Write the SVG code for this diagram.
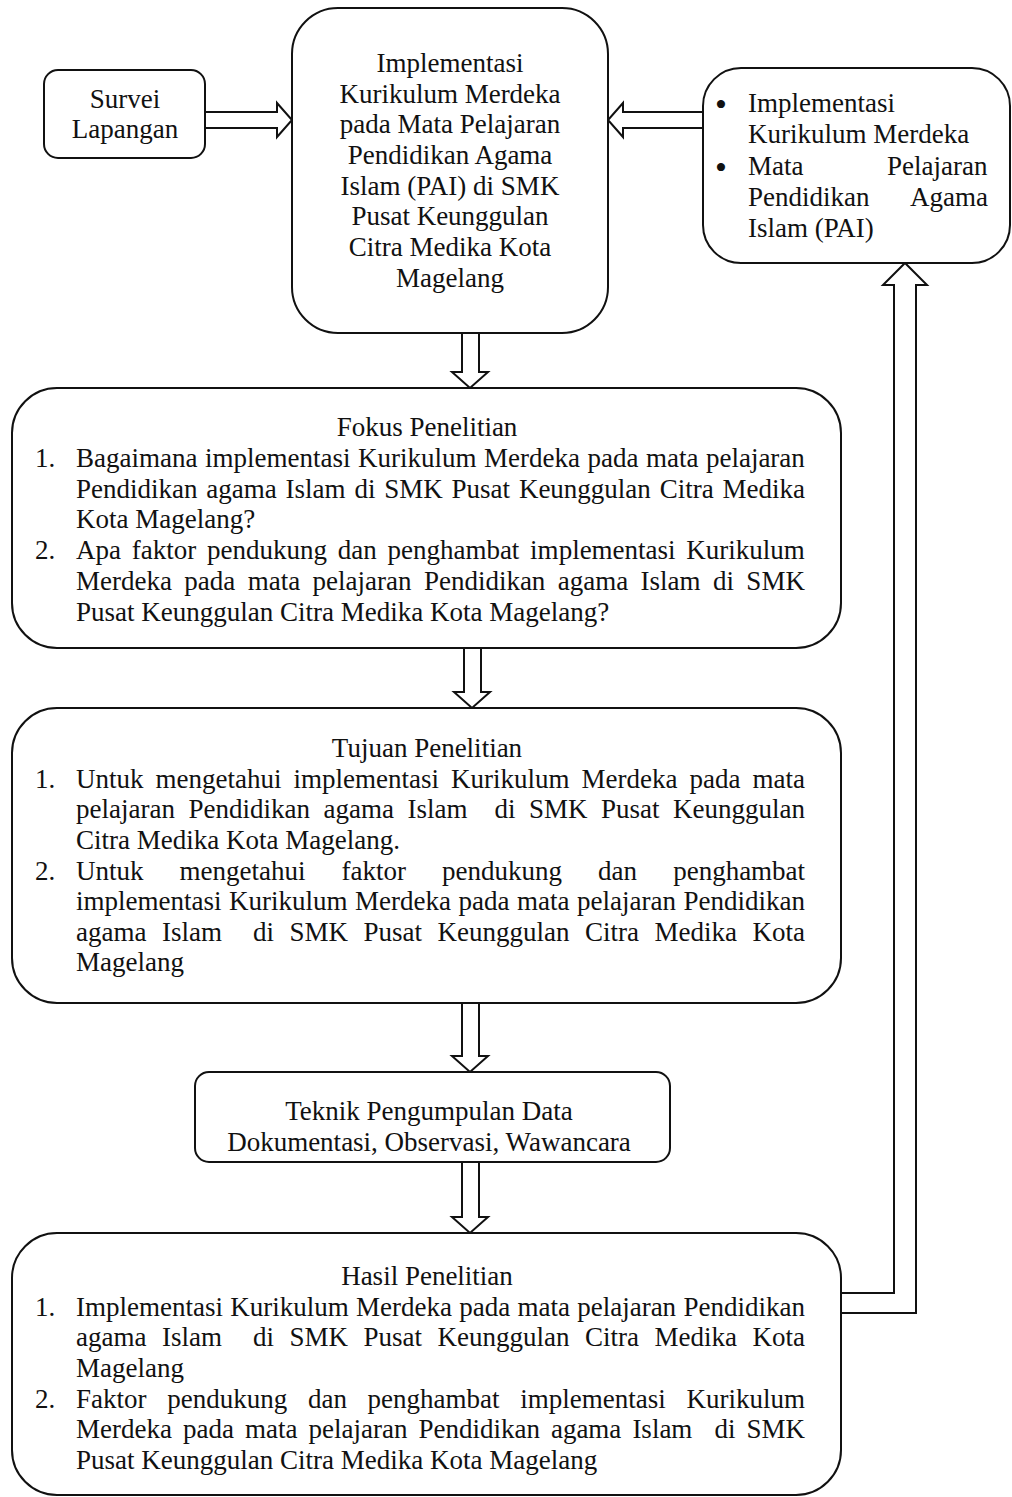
<svg xmlns="http://www.w3.org/2000/svg" width="1012" height="1497" viewBox="0 0 1012 1497">
<style>
.box{fill:#fff;stroke:#111;stroke-width:2}
.arr{fill:#fff;stroke:#111;stroke-width:2;stroke-linejoin:miter}
text{font-family:"Liberation Serif","Times New Roman",serif;font-size:27px;fill:#111}
.c{text-anchor:middle}
.b{font-size:34px;text-anchor:middle}
</style>
<rect width="1012" height="1497" fill="#fff"/>
<g id="connectors">
<path class="arr" d="M205,112 H277 V103 L292,120 L277,137 V128 H205"/>
<path class="arr" d="M703,112 H623 V103 L608,120 L623,137 V128 H703"/>
<path class="arr" d="M462,333 V372 H452 L470,388 L488,372 H479 V333"/>
<path class="arr" d="M464,648 V692 H454 L472,708 L490,692 H481 V648"/>
<path class="arr" d="M462,1003 V1056 H452 L470,1072 L488,1056 H479 V1003"/>
<path class="arr" d="M462,1162 V1217 H452 L470,1233 L488,1217 H479 V1162"/>
<path class="arr" d="M841,1313 H916 V285 H927 L905,263 L883,285 H894 V1293 H841"/>
</g>
<g id="survei">
<rect class="box" x="44" y="70" width="161" height="88" rx="14"/>
<text class="c" x="125" y="108">Survei</text>
<text class="c" x="125" y="138">Lapangan</text>
</g>
<g id="main">
<rect class="box" x="292" y="8" width="316" height="325" rx="46"/>
<text class="c" x="450" y="72">Implementasi</text>
<text class="c" x="450" y="103">Kurikulum Merdeka</text>
<text class="c" x="450" y="133">pada Mata Pelajaran</text>
<text class="c" x="450" y="164">Pendidikan Agama</text>
<text class="c" x="450" y="195">Islam (PAI) di SMK</text>
<text class="c" x="450" y="225">Pusat Keunggulan</text>
<text class="c" x="450" y="256">Citra Medika Kota</text>
<text class="c" x="450" y="287">Magelang</text>
</g>
<g id="teori">
<rect class="box" x="703" y="68" width="307" height="195" rx="38"/>
<text class="b" x="721" y="116">•</text>
<text x="748" y="112">Implementasi</text>
<text x="748" y="143">Kurikulum Merdeka</text>
<text class="b" x="721" y="179">•</text>
<text x="748" y="175">Mata</text>
<text x="887" y="175">Pelajaran</text>
<text x="748" y="206">Pendidikan</text>
<text x="910" y="206">Agama</text>
<text x="748" y="237">Islam (PAI)</text>
</g>
<g id="fokus">
<rect class="box" x="12" y="388" width="829" height="260" rx="45"/>
<text class="c" x="427" y="436">Fokus Penelitian</text>
<text x="35" y="467">1.</text>
<text x="76" y="467" style="word-spacing:0.77px">Bagaimana implementasi Kurikulum Merdeka pada mata pelajaran</text>
<text x="76" y="498" style="word-spacing:2.07px">Pendidikan agama Islam di SMK Pusat Keunggulan Citra Medika</text>
<text x="76" y="528">Kota Magelang?</text>
<text x="35" y="559">2.</text>
<text x="76" y="559" style="word-spacing:4.0px">Apa faktor pendukung dan penghambat implementasi Kurikulum</text>
<text x="76" y="590" style="word-spacing:5.64px">Merdeka pada mata pelajaran Pendidikan agama Islam di SMK</text>
<text x="76" y="621">Pusat Keunggulan Citra Medika Kota Magelang?</text>
</g>
<g id="tujuan">
<rect class="box" x="12" y="708" width="829" height="295" rx="45"/>
<text class="c" x="427" y="757">Tujuan Penelitian</text>
<text x="35" y="788">1.</text>
<text x="76" y="788" style="word-spacing:5.27px">Untuk mengetahui implementasi Kurikulum Merdeka pada mata</text>
<text x="76" y="818" xml:space="preserve" style="word-spacing:6.76px">pelajaran Pendidikan agama Islam  di SMK Pusat Keunggulan</text>
<text x="76" y="849">Citra Medika Kota Magelang.</text>
<text x="35" y="880">2.</text>
<text x="76" y="880" style="word-spacing:29.3px">Untuk mengetahui faktor pendukung dan penghambat</text>
<text x="76" y="910" style="word-spacing:0.77px">implementasi Kurikulum Merdeka pada mata pelajaran Pendidikan</text>
<text x="76" y="941" xml:space="preserve" style="word-spacing:8.76px">agama Islam  di SMK Pusat Keunggulan Citra Medika Kota</text>
<text x="76" y="971">Magelang</text>
</g>
<g id="teknik">
<rect class="box" x="195" y="1072" width="475" height="90" rx="14"/>
<text class="c" x="429" y="1120">Teknik Pengumpulan Data</text>
<text class="c" x="429" y="1151">Dokumentasi, Observasi, Wawancara</text>
</g>
<g id="hasil">
<rect class="box" x="12" y="1233" width="829" height="262" rx="45"/>
<text class="c" x="427" y="1285">Hasil Penelitian</text>
<text x="35" y="1316">1.</text>
<text x="76" y="1316" style="word-spacing:0.52px">Implementasi Kurikulum Merdeka pada mata pelajaran Pendidikan</text>
<text x="76" y="1346" xml:space="preserve" style="word-spacing:8.76px">agama Islam  di SMK Pusat Keunggulan Citra Medika Kota</text>
<text x="76" y="1377">Magelang</text>
<text x="35" y="1408">2.</text>
<text x="76" y="1408" style="word-spacing:13.96px">Faktor pendukung dan penghambat implementasi Kurikulum</text>
<text x="76" y="1438" xml:space="preserve" style="word-spacing:4.27px">Merdeka pada mata pelajaran Pendidikan agama Islam  di SMK</text>
<text x="76" y="1469">Pusat Keunggulan Citra Medika Kota Magelang</text>
</g>
</svg>
